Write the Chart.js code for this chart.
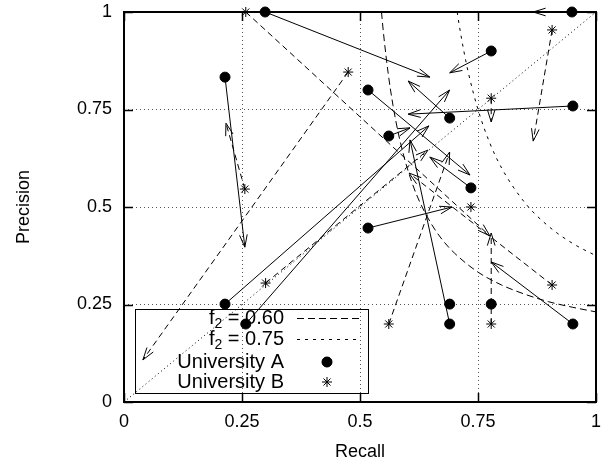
<!DOCTYPE html>
<html>
<head>
<meta charset="utf-8">
<script src="https://cdn.jsdelivr.net/npm/chart.js@4.4.1/dist/chart.umd.min.js"></script>
<style>
  html, body { margin: 0; padding: 0; background: #fff; }
  #wrap { width: 602px; height: 465px; }
</style>
</head>
<body>
<div id="wrap"><canvas id="mychart" width="602" height="465"></canvas></div>
<script>
const TICKS = [0, 0.25, 0.5, 0.75, 1];
const FONT = "'Liberation Sans', Arial, sans-serif";

// University A: where each point sits, and where its arrow goes (null = no arrow)
const aRecall = [0.299, 0.949, 0.214, 0.778, 0.517, 0.951, 0.69, 0.561, 0.735, 0.517, 0.69, 0.69, 0.778, 0.951, 0.214, 0.258];
const aPrecision = [1.0, 1.0, 0.833, 0.9, 0.8, 0.759, 0.728, 0.682, 0.549, 0.446, 0.251, 0.2, 0.251, 0.2, 0.251, 0.2];
const aToRecall = [0.648, 0.867, 0.256, 0.69, 0.733, 0.602, 0.602, 0.606, 0.648, 0.695, null, 0.606, null, 0.778, 0.646, 0.69];
const aToPrecision = [0.833, 1.0, 0.397, 0.844, 0.582, 0.738, 0.823, 0.703, 0.628, 0.5, null, 0.672, null, 0.359, 0.708, 0.8];

// University B
const bRecall = [0.258, 0.475, 0.907, 0.778, 0.256, 0.735, 0.3, 0.907, 0.561, 0.778];
const bPrecision = [1.0, 0.846, 0.954, 0.779, 0.546, 0.5, 0.305, 0.3, 0.2, 0.2];
const bToRecall = [0.775, 0.04, 0.867, 0.778, 0.216, null, 0.644, 0.604, 0.69, 0.778];
const bToPrecision = [0.426, 0.108, 0.669, 0.718, 0.715, null, 0.646, 0.587, 0.641, 0.433];

// iso f2 curves
const f060Recall = [0.5455, 0.55, 0.56, 0.57, 0.58, 0.59, 0.6, 0.62, 0.65, 0.675, 0.7, 0.75, 0.8, 0.85, 0.9, 0.95, 1];
const f060Precision = [1, 0.943, 0.84, 0.76, 0.696, 0.644, 0.6, 0.531, 0.459, 0.415, 0.382, 0.333, 0.3, 0.276, 0.257, 0.243, 0.231];
const f075Recall = [0.7059, 0.71, 0.72, 0.73, 0.75, 0.775, 0.8, 0.85, 0.9, 0.95, 1];
const f075Precision = [1, 0.968, 0.9, 0.842, 0.75, 0.664, 0.6, 0.51, 0.45, 0.407, 0.375];

const diagRecall = [0, 1];
const diagPrecision = [0, 1];

const legendNames = ["f2 = 0.60", "f2 = 0.75", "University A", "University B"];

function pts(xs, ys) {
  return xs.map((x, i) => ({ x: x, y: ys[i] }));
}

function draw_arrow(ctx, x0, y0, x1, y1, dashed) {
  ctx.save();
  ctx.strokeStyle = "#000";
  ctx.lineWidth = 1;
  ctx.setLineDash(dashed ? [6, 4] : []);
  ctx.beginPath();
  ctx.moveTo(x0, y0);
  ctx.lineTo(x1, y1);
  ctx.stroke();
  ctx.setLineDash([]);
  const ang = Math.atan2(y1 - y0, x1 - x0);
  const len = 13, spread = 0.3;
  ctx.beginPath();
  ctx.moveTo(x1 - len * Math.cos(ang - spread), y1 - len * Math.sin(ang - spread));
  ctx.lineTo(x1, y1);
  ctx.lineTo(x1 - len * Math.cos(ang + spread), y1 - len * Math.sin(ang + spread));
  ctx.stroke();
  ctx.restore();
}

const extras = {
  id: "extras",
  beforeDatasetsDraw(chart) {
    const { ctx, chartArea: a, scales } = chart;
    const sx = scales.x, sy = scales.y;

    // frame + inward ticks on all sides
    ctx.save();
    ctx.strokeStyle = "#000";
    ctx.lineWidth = 2;
    ctx.strokeRect(a.left, a.top, a.right - a.left, a.bottom - a.top);
    ctx.lineWidth = 1.5;
    TICKS.forEach((t) => {
      const px = Math.round(sx.getPixelForValue(t)) + 0.5;
      const py = Math.round(sy.getPixelForValue(t)) + 0.5;
      ctx.beginPath();
      ctx.moveTo(px, a.bottom); ctx.lineTo(px, a.bottom - 9);
      ctx.moveTo(px, a.top); ctx.lineTo(px, a.top + 9);
      ctx.moveTo(a.left, py); ctx.lineTo(a.left + 9, py);
      ctx.moveTo(a.right, py); ctx.lineTo(a.right - 9, py);
      ctx.stroke();
    });
    ctx.restore();

    // arrows
    aRecall.forEach((r, i) => {
      if (aToRecall[i] === null) return;
      draw_arrow(ctx, sx.getPixelForValue(r), sy.getPixelForValue(aPrecision[i]),
        sx.getPixelForValue(aToRecall[i]), sy.getPixelForValue(aToPrecision[i]), false);
    });
    bRecall.forEach((r, i) => {
      if (bToRecall[i] === null) return;
      draw_arrow(ctx, sx.getPixelForValue(r), sy.getPixelForValue(bPrecision[i]),
        sx.getPixelForValue(bToRecall[i]), sy.getPixelForValue(bToPrecision[i]), true);
    });

    // legend box
    ctx.save();
    ctx.strokeStyle = "#000";
    ctx.lineWidth = 1;
    ctx.strokeRect(135.5, 309.5, 233, 84);
    const rows = [318, 339, 362, 382];
    const textRight = 284;
    ctx.fillStyle = "#000";
    ctx.textBaseline = "middle";
    legendNames.forEach((name, i) => {
      const y = rows[i];
      if (name.startsWith("f2")) {
        const rest = name.slice(2);
        ctx.font = "20px " + FONT;
        const w1 = ctx.measureText("f").width;
        const w3 = ctx.measureText(rest).width;
        ctx.font = "14px " + FONT;
        const w2 = ctx.measureText("2").width;
        let x = textRight - (w1 + w2 + w3);
        ctx.textAlign = "left";
        ctx.font = "20px " + FONT;
        ctx.fillText("f", x, y);
        ctx.font = "14px " + FONT;
        ctx.fillText("2", x + w1, y + 6);
        ctx.font = "20px " + FONT;
        ctx.fillText(rest, x + w1 + w2, y);
      } else {
        ctx.font = "20px " + FONT;
        ctx.textAlign = "right";
        ctx.fillText(name, textRight, y);
      }
    });
    ctx.beginPath();
    ctx.setLineDash([7, 4]);
    ctx.moveTo(297, rows[0] + 0.5); ctx.lineTo(360, rows[0] + 0.5);
    ctx.stroke();
    ctx.beginPath();
    ctx.setLineDash([3, 5]);
    ctx.moveTo(297, rows[1] + 0.5); ctx.lineTo(360, rows[1] + 0.5);
    ctx.stroke();
    ctx.setLineDash([]);
    Chart.helpers.drawPoint(ctx, { pointStyle: "circle", radius: 5, rotation: 0, borderWidth: 1 }, 327, rows[2]);
    ctx.fill();
    Chart.helpers.drawPoint(ctx, { pointStyle: "star", radius: 5, rotation: 0, borderWidth: 1 }, 327, rows[3]);
    ctx.restore();
  },
};

const tickLabel = (v) => String(v);
const noPad = (s) => { s.paddingTop = 0; s.paddingBottom = 0; s.paddingLeft = 0; s.paddingRight = 0; };

const chart = document.querySelector("#mychart");
new Chart(chart, {
  type: "scatter",
  data: {
    datasets: [
      {
        label: "University A",
        data: pts(aRecall, aPrecision),
        pointStyle: "circle",
        pointRadius: 5,
        backgroundColor: "#000",
        borderColor: "#000",
        borderWidth: 1,
        clip: false,
      },
      {
        label: "University B",
        data: pts(bRecall, bPrecision),
        pointStyle: "star",
        pointRadius: 5,
        borderColor: "#000",
        borderWidth: 1,
        clip: false,
      },
      {
        label: "f2 = 0.60",
        data: pts(f060Recall, f060Precision),
        showLine: true,
        pointRadius: 0,
        borderColor: "#000",
        borderWidth: 1,
        borderDash: [7, 4],
        cubicInterpolationMode: "monotone",
      },
      {
        label: "f2 = 0.75",
        data: pts(f075Recall, f075Precision),
        showLine: true,
        pointRadius: 0,
        borderColor: "#000",
        borderWidth: 1,
        borderDash: [3, 5],
        cubicInterpolationMode: "monotone",
      },
      {
        label: "diagonal",
        data: pts(diagRecall, diagPrecision),
        showLine: true,
        pointRadius: 0,
        borderColor: "#000",
        borderWidth: 1,
        borderDash: [1, 3],
      },
    ],
  },
  options: {
    responsive: false,
    animation: false,
    devicePixelRatio: 1,
    layout: { padding: { top: 12, right: 6, left: 0, bottom: 0 } },
    plugins: { legend: { display: false }, tooltip: { enabled: false } },
    scales: {
      x: {
        type: "linear",
        min: 0,
        max: 1,
        afterFit: (s) => { s.height = 63; noPad(s); },
        afterBuildTicks: (s) => { s.ticks = TICKS.map((v) => ({ value: v })); },
        ticks: { color: "#000", padding: 9, font: { size: 18, family: FONT }, callback: tickLabel },
        grid: {
          color: (c) => (c.tick && (c.tick.value === 0 || c.tick.value === 1)) ? "rgba(0,0,0,0)" : "#555",
          lineWidth: 1,
          drawTicks: false,
        },
        border: { display: false, dash: [1, 3] },
        title: { display: true, text: "Recall", color: "#000", font: { size: 18, family: FONT }, padding: { top: 0, bottom: 2 } },
      },
      y: {
        type: "linear",
        min: 0,
        max: 1,
        afterFit: (s) => { s.width = 124; noPad(s); },
        afterBuildTicks: (s) => { s.ticks = TICKS.map((v) => ({ value: v })); },
        ticks: { color: "#000", padding: 12, font: { size: 18, family: FONT }, callback: tickLabel },
        grid: {
          color: (c) => (c.tick && (c.tick.value === 0 || c.tick.value === 1)) ? "rgba(0,0,0,0)" : "#555",
          lineWidth: 1,
          drawTicks: false,
        },
        border: { display: false, dash: [1, 3] },
        title: { display: true, text: "Precision", color: "#000", font: { size: 18, family: FONT }, padding: { top: 13, bottom: 0 } },
      },
    },
  },
  plugins: [extras],
});
</script>
</body>
</html>
